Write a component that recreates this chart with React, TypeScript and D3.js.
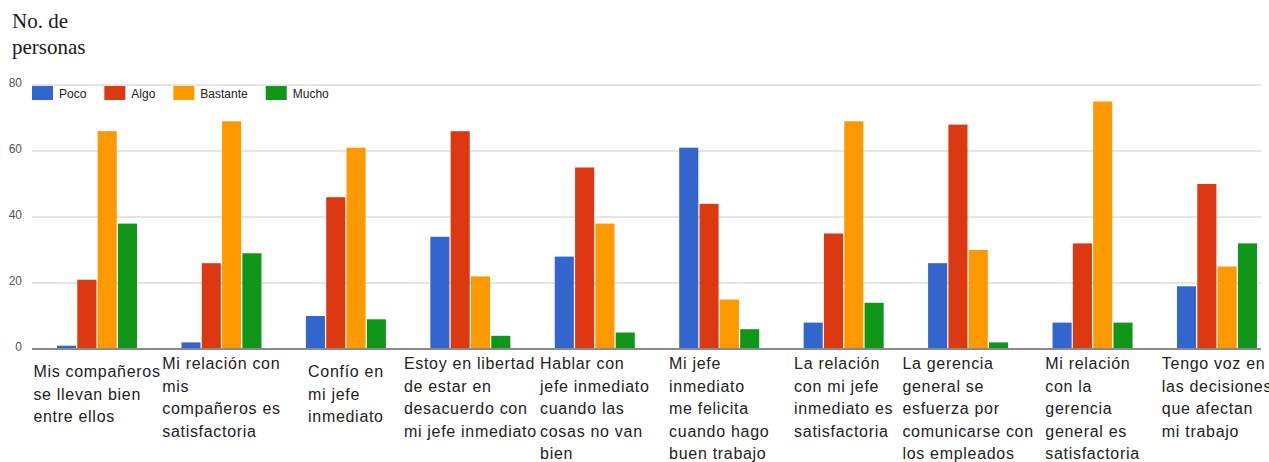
import React from "react";
import * as d3 from "d3";

const categories: string[][] = [
  ["Mis compañeros", "se llevan bien", "entre ellos"],
  ["Mi relación con", "mis", "compañeros es", "satisfactoria"],
  ["Confío en", "mi jefe", "inmediato"],
  ["Estoy en libertad", "de estar en", "desacuerdo con", "mi jefe inmediato"],
  ["Hablar con", "jefe inmediato", "cuando las", "cosas no van", "bien"],
  ["Mi jefe", "inmediato", "me felicita", "cuando hago", "buen trabajo"],
  ["La relación", "con mi jefe", "inmediato es", "satisfactoria"],
  ["La gerencia", "general se", "esfuerza por", "comunicarse con", "los empleados"],
  ["Mi relación", "con la", "gerencia", "general es", "satisfactoria"],
  ["Tengo voz en", "las decisiones", "que afectan", "mi trabajo"],
];

const seriesNames = ["Poco", "Algo", "Bastante", "Mucho"];
const seriesColors = ["#3366cc", "#dc3912", "#ff9900", "#109618"];

const poco = [1, 2, 10, 34, 28, 61, 8, 26, 8, 19];
const algo = [21, 26, 46, 66, 55, 44, 35, 68, 32, 50];
const bastante = [66, 69, 61, 22, 38, 15, 69, 30, 75, 25];
const mucho = [38, 29, 9, 4, 5, 6, 14, 2, 8, 32];

const yTicks = [0, 20, 40, 60, 80];

const W = 1269;
const H = 462;

const LABEL_FONT = "16px 'Liberation Sans', Arial, sans-serif";
const LABEL_LS = 0.7;

let ctx: CanvasRenderingContext2D | null = null;
function measure(text: string, font: string, ls: number): number {
  if (!ctx) {
    const c = document.createElement("canvas");
    ctx = c.getContext("2d");
  }
  if (!ctx) return text.length * 8;
  ctx.font = font;
  return ctx.measureText(text).width + ls * text.length;
}

export default function App() {
  const series = [poco, algo, bastante, mucho];
  const idx = categories.map((_, i) => String(i));

  const x = d3.scaleBand<string>().domain(idx).range([57, 1257]).paddingInner(0.357).paddingOuter(0);
  const xi = d3.scaleBand<string>().domain(seriesNames).range([0, x.bandwidth()]).paddingInner(0.06);
  const y = d3.scaleLinear().domain([0, 80]).range([349, 85]);

  const plotLeft = 32;
  const plotRight = 1261;

  // legend layout
  let lx = 32;
  const legendItems = seriesNames.map((name, i) => {
    const item = { name, color: seriesColors[i], x: lx };
    lx += 21 + 6 + measure(name, "12px 'Liberation Sans', Arial, sans-serif", 0) + 18;
    return item;
  });

  return (
    <div style={{ position: "fixed", left: 0, top: 0 }}>
      <svg width={W} height={H} style={{ display: "block", background: "#fff" }}>
        {/* title */}
        <g fontFamily="'Liberation Serif', 'Times New Roman', serif" fontSize={21} fill="#1a1a1a">
          <text x={12} y={28}>No. de</text>
          <text x={12} y={54}>personas</text>
        </g>

        {/* gridlines */}
        {yTicks.filter((t) => t > 0).map((t) => (
          <line key={t} x1={plotLeft} x2={plotRight} y1={y(t)} y2={y(t)} stroke="#dcdcdc" strokeWidth={1.5} />
        ))}

        {/* y tick labels */}
        <g fontFamily="'Liberation Sans', Arial, sans-serif" fontSize={12} fill="#555" textAnchor="end">
          {yTicks.map((t) => (
            <text key={t} x={22} y={y(t) + 2}>{t}</text>
          ))}
        </g>

        {/* bars */}
        {categories.map((_, ci) => (
          <g key={ci} transform={`translate(${x(String(ci))},0)`}>
            {seriesNames.map((s, si) => {
              const v = series[si][ci];
              return (
                <rect
                  key={s}
                  x={xi(s)}
                  y={y(v)}
                  width={xi.bandwidth()}
                  height={y(0) - y(v)}
                  fill={seriesColors[si]}
                />
              );
            })}
          </g>
        ))}

        {/* axis line */}
        <line x1={plotLeft} x2={plotRight} y1={y(0)} y2={y(0)} stroke="#8a8a8a" strokeWidth={2} />

        {/* legend */}
        <g fontFamily="'Liberation Sans', Arial, sans-serif" fontSize={12} fill="#222">
          {legendItems.map((it) => (
            <g key={it.name}>
              <rect x={it.x} y={86} width={21} height={14} fill={it.color} />
              <text x={it.x + 27} y={97.5}>{it.name}</text>
            </g>
          ))}
        </g>

        {/* category labels */}
        <g fontFamily="'Liberation Sans', Arial, sans-serif" fontSize={16} fill="#222" letterSpacing={LABEL_LS}>
          {categories.map((lines, ci) => {
            const cx = (x(String(ci)) ?? 0) + x.bandwidth() / 2;
            const maxW = Math.max(...lines.map((l) => measure(l, LABEL_FONT, LABEL_LS)));
            const x0 = cx - maxW / 2;
            const y0 = lines.length <= 3 ? 377 : 369;
            return (
              <g key={ci}>
                {lines.map((l, li) => (
                  <text key={li} x={x0} y={y0 + li * 22.5}>{l}</text>
                ))}
              </g>
            );
          })}
        </g>
      </svg>
    </div>
  );
}
